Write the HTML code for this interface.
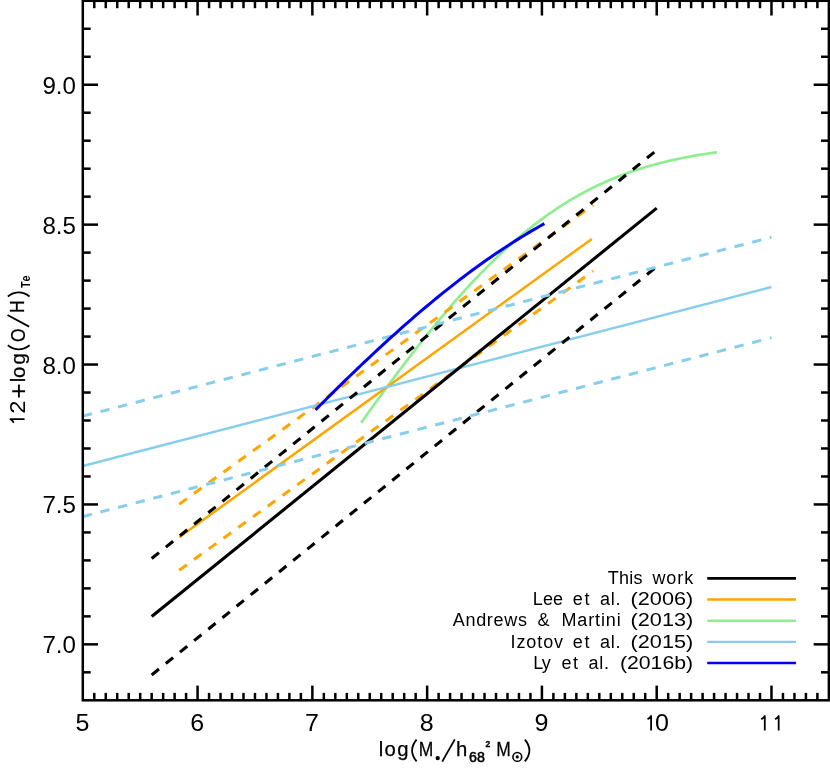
<!DOCTYPE html>
<html><head><meta charset="utf-8"><title>MZ relation</title>
<style>
html,body{margin:0;padding:0;background:#fff;}
body{width:830px;height:774px;overflow:hidden;font-family:"Liberation Sans",sans-serif;}
svg{display:block;will-change:transform;}
text{font-family:"Liberation Sans",sans-serif;fill:#000;}
.tk{font-size:23px;}
.lg{font-size:18px;}
</style></head><body>
<svg width="830" height="774" viewBox="0 0 830 774">
<rect x="0" y="0" width="830" height="774" fill="#ffffff"/>

<path d="M361.16 422.67 L365.61 416.44 L370.06 410.24 L374.51 404.07 L378.96 397.95 L383.40 391.88 L387.85 385.84 L392.30 379.85 L396.75 373.91 L401.19 368.02 L405.64 362.18 L410.09 356.40 L414.54 350.67 L418.98 345.00 L423.43 339.39 L427.88 333.84 L432.33 328.35 L436.78 322.94 L441.22 317.59 L445.67 312.31 L450.12 307.11 L454.57 301.98 L459.01 296.93 L463.46 291.95 L467.91 287.06 L472.36 282.26 L476.81 277.54 L481.25 272.90 L485.70 268.36 L490.15 263.90 L494.60 259.54 L499.04 255.27 L503.49 251.09 L507.94 247.01 L512.39 243.03 L516.83 239.14 L521.28 235.35 L525.73 231.66 L530.18 228.07 L534.63 224.57 L539.07 221.18 L543.52 217.88 L547.97 214.69 L552.42 211.59 L556.86 208.59 L561.31 205.69 L565.76 202.88 L570.21 200.17 L574.66 197.55 L579.10 195.02 L583.55 192.58 L588.00 190.24 L592.45 187.98 L596.89 185.81 L601.34 183.72 L605.79 181.71 L610.24 179.79 L614.68 177.94 L619.13 176.17 L623.58 174.48 L628.03 172.85 L632.48 171.30 L636.92 169.81 L641.37 168.39 L645.82 167.03 L650.27 165.74 L654.71 164.50 L659.16 163.32 L663.61 162.20 L668.06 161.12 L672.51 160.10 L676.95 159.13 L681.40 158.20 L685.85 157.32 L690.30 156.49 L694.74 155.69 L699.19 154.93 L703.64 154.21 L708.09 153.53 L712.53 152.88 L716.98 152.26" fill="none" stroke="#90ee90" stroke-width="2.7" stroke-linecap="butt" stroke-linejoin="round"/>
<line x1="179.22" y1="537.18" x2="591.85" y2="238.91" stroke="#ffa500" stroke-width="2.5" stroke-linecap="butt"/>
<line x1="179.22" y1="504.16" x2="593.23" y2="204.90" stroke="#ffa500" stroke-width="3" stroke-linecap="butt" stroke-dasharray="9.4 8.8"/>
<line x1="179.22" y1="570.19" x2="593.23" y2="270.93" stroke="#ffa500" stroke-width="3" stroke-linecap="butt" stroke-dasharray="9.4 8.8"/>
<line x1="82.80" y1="465.97" x2="771.48" y2="287.04" stroke="#87ceeb" stroke-width="2.6" stroke-linecap="butt"/>
<line x1="151.67" y1="616.50" x2="656.70" y2="208.13" stroke="#000" stroke-width="3.1" stroke-linecap="butt"/>
<line x1="151.67" y1="558.58" x2="656.70" y2="150.21" stroke="#000" stroke-width="3.1" stroke-linecap="butt" stroke-dasharray="9.4 8.8"/>
<line x1="151.67" y1="674.98" x2="656.70" y2="266.61" stroke="#000" stroke-width="3.1" stroke-linecap="butt" stroke-dasharray="9.4 8.8"/>
<line x1="82.80" y1="416.16" x2="771.48" y2="237.23" stroke="#87ceeb" stroke-width="3" stroke-linecap="butt" stroke-dasharray="9.4 8.8"/>
<line x1="82.80" y1="516.61" x2="771.48" y2="337.68" stroke="#87ceeb" stroke-width="3" stroke-linecap="butt" stroke-dasharray="9.4 8.8"/>
<path d="M315.50 409.89 L319.32 406.06 L323.13 402.24 L326.95 398.44 L330.76 394.65 L334.58 390.88 L338.39 387.13 L342.21 383.40 L346.02 379.68 L349.84 375.99 L353.65 372.31 L357.47 368.65 L361.28 365.02 L365.10 361.40 L368.91 357.80 L372.73 354.23 L376.54 350.68 L380.36 347.15 L384.17 343.64 L387.99 340.16 L391.80 336.70 L395.62 333.27 L399.43 329.86 L403.25 326.47 L407.06 323.12 L410.88 319.79 L414.69 316.48 L418.51 313.21 L422.32 309.96 L426.14 306.75 L429.95 303.56 L433.77 300.40 L437.58 297.27 L441.40 294.18 L445.21 291.11 L449.03 288.08 L452.84 285.07 L456.66 282.11 L460.47 279.17 L464.29 276.27 L468.10 273.40 L471.92 270.57 L475.73 267.77 L479.55 265.00 L483.36 262.27 L487.18 259.58 L490.99 256.93 L494.81 254.31 L498.62 251.72 L502.44 249.18 L506.25 246.67 L510.07 244.20 L513.88 241.76 L517.69 239.37 L521.51 237.01 L525.32 234.69 L529.14 232.41 L532.95 230.16 L536.77 227.96 L540.58 225.79 L544.40 223.66" fill="none" stroke="#0000f6" stroke-width="3" stroke-linecap="butt" stroke-linejoin="round"/>
<rect x="82.80" y="0.80" width="746.07" height="699.50" fill="none" stroke="#000" stroke-width="2.5"/>
<line x1="94.28" y1="700.30" x2="94.28" y2="692.90" stroke="#000" stroke-width="2.5" stroke-linecap="butt"/>
<line x1="94.28" y1="0.80" x2="94.28" y2="8.20" stroke="#000" stroke-width="2.5" stroke-linecap="butt"/>
<line x1="105.76" y1="700.30" x2="105.76" y2="692.90" stroke="#000" stroke-width="2.5" stroke-linecap="butt"/>
<line x1="105.76" y1="0.80" x2="105.76" y2="8.20" stroke="#000" stroke-width="2.5" stroke-linecap="butt"/>
<line x1="117.23" y1="700.30" x2="117.23" y2="692.90" stroke="#000" stroke-width="2.5" stroke-linecap="butt"/>
<line x1="117.23" y1="0.80" x2="117.23" y2="8.20" stroke="#000" stroke-width="2.5" stroke-linecap="butt"/>
<line x1="128.71" y1="700.30" x2="128.71" y2="692.90" stroke="#000" stroke-width="2.5" stroke-linecap="butt"/>
<line x1="128.71" y1="0.80" x2="128.71" y2="8.20" stroke="#000" stroke-width="2.5" stroke-linecap="butt"/>
<line x1="140.19" y1="700.30" x2="140.19" y2="692.90" stroke="#000" stroke-width="2.5" stroke-linecap="butt"/>
<line x1="140.19" y1="0.80" x2="140.19" y2="8.20" stroke="#000" stroke-width="2.5" stroke-linecap="butt"/>
<line x1="151.67" y1="700.30" x2="151.67" y2="692.90" stroke="#000" stroke-width="2.5" stroke-linecap="butt"/>
<line x1="151.67" y1="0.80" x2="151.67" y2="8.20" stroke="#000" stroke-width="2.5" stroke-linecap="butt"/>
<line x1="163.15" y1="700.30" x2="163.15" y2="692.90" stroke="#000" stroke-width="2.5" stroke-linecap="butt"/>
<line x1="163.15" y1="0.80" x2="163.15" y2="8.20" stroke="#000" stroke-width="2.5" stroke-linecap="butt"/>
<line x1="174.62" y1="700.30" x2="174.62" y2="692.90" stroke="#000" stroke-width="2.5" stroke-linecap="butt"/>
<line x1="174.62" y1="0.80" x2="174.62" y2="8.20" stroke="#000" stroke-width="2.5" stroke-linecap="butt"/>
<line x1="186.10" y1="700.30" x2="186.10" y2="692.90" stroke="#000" stroke-width="2.5" stroke-linecap="butt"/>
<line x1="186.10" y1="0.80" x2="186.10" y2="8.20" stroke="#000" stroke-width="2.5" stroke-linecap="butt"/>
<line x1="197.58" y1="700.30" x2="197.58" y2="685.60" stroke="#000" stroke-width="2.5" stroke-linecap="butt"/>
<line x1="197.58" y1="0.80" x2="197.58" y2="15.50" stroke="#000" stroke-width="2.5" stroke-linecap="butt"/>
<line x1="209.06" y1="700.30" x2="209.06" y2="692.90" stroke="#000" stroke-width="2.5" stroke-linecap="butt"/>
<line x1="209.06" y1="0.80" x2="209.06" y2="8.20" stroke="#000" stroke-width="2.5" stroke-linecap="butt"/>
<line x1="220.54" y1="700.30" x2="220.54" y2="692.90" stroke="#000" stroke-width="2.5" stroke-linecap="butt"/>
<line x1="220.54" y1="0.80" x2="220.54" y2="8.20" stroke="#000" stroke-width="2.5" stroke-linecap="butt"/>
<line x1="232.01" y1="700.30" x2="232.01" y2="692.90" stroke="#000" stroke-width="2.5" stroke-linecap="butt"/>
<line x1="232.01" y1="0.80" x2="232.01" y2="8.20" stroke="#000" stroke-width="2.5" stroke-linecap="butt"/>
<line x1="243.49" y1="700.30" x2="243.49" y2="692.90" stroke="#000" stroke-width="2.5" stroke-linecap="butt"/>
<line x1="243.49" y1="0.80" x2="243.49" y2="8.20" stroke="#000" stroke-width="2.5" stroke-linecap="butt"/>
<line x1="254.97" y1="700.30" x2="254.97" y2="692.90" stroke="#000" stroke-width="2.5" stroke-linecap="butt"/>
<line x1="254.97" y1="0.80" x2="254.97" y2="8.20" stroke="#000" stroke-width="2.5" stroke-linecap="butt"/>
<line x1="266.45" y1="700.30" x2="266.45" y2="692.90" stroke="#000" stroke-width="2.5" stroke-linecap="butt"/>
<line x1="266.45" y1="0.80" x2="266.45" y2="8.20" stroke="#000" stroke-width="2.5" stroke-linecap="butt"/>
<line x1="277.93" y1="700.30" x2="277.93" y2="692.90" stroke="#000" stroke-width="2.5" stroke-linecap="butt"/>
<line x1="277.93" y1="0.80" x2="277.93" y2="8.20" stroke="#000" stroke-width="2.5" stroke-linecap="butt"/>
<line x1="289.40" y1="700.30" x2="289.40" y2="692.90" stroke="#000" stroke-width="2.5" stroke-linecap="butt"/>
<line x1="289.40" y1="0.80" x2="289.40" y2="8.20" stroke="#000" stroke-width="2.5" stroke-linecap="butt"/>
<line x1="300.88" y1="700.30" x2="300.88" y2="692.90" stroke="#000" stroke-width="2.5" stroke-linecap="butt"/>
<line x1="300.88" y1="0.80" x2="300.88" y2="8.20" stroke="#000" stroke-width="2.5" stroke-linecap="butt"/>
<line x1="312.36" y1="700.30" x2="312.36" y2="685.60" stroke="#000" stroke-width="2.5" stroke-linecap="butt"/>
<line x1="312.36" y1="0.80" x2="312.36" y2="15.50" stroke="#000" stroke-width="2.5" stroke-linecap="butt"/>
<line x1="323.84" y1="700.30" x2="323.84" y2="692.90" stroke="#000" stroke-width="2.5" stroke-linecap="butt"/>
<line x1="323.84" y1="0.80" x2="323.84" y2="8.20" stroke="#000" stroke-width="2.5" stroke-linecap="butt"/>
<line x1="335.32" y1="700.30" x2="335.32" y2="692.90" stroke="#000" stroke-width="2.5" stroke-linecap="butt"/>
<line x1="335.32" y1="0.80" x2="335.32" y2="8.20" stroke="#000" stroke-width="2.5" stroke-linecap="butt"/>
<line x1="346.79" y1="700.30" x2="346.79" y2="692.90" stroke="#000" stroke-width="2.5" stroke-linecap="butt"/>
<line x1="346.79" y1="0.80" x2="346.79" y2="8.20" stroke="#000" stroke-width="2.5" stroke-linecap="butt"/>
<line x1="358.27" y1="700.30" x2="358.27" y2="692.90" stroke="#000" stroke-width="2.5" stroke-linecap="butt"/>
<line x1="358.27" y1="0.80" x2="358.27" y2="8.20" stroke="#000" stroke-width="2.5" stroke-linecap="butt"/>
<line x1="369.75" y1="700.30" x2="369.75" y2="692.90" stroke="#000" stroke-width="2.5" stroke-linecap="butt"/>
<line x1="369.75" y1="0.80" x2="369.75" y2="8.20" stroke="#000" stroke-width="2.5" stroke-linecap="butt"/>
<line x1="381.23" y1="700.30" x2="381.23" y2="692.90" stroke="#000" stroke-width="2.5" stroke-linecap="butt"/>
<line x1="381.23" y1="0.80" x2="381.23" y2="8.20" stroke="#000" stroke-width="2.5" stroke-linecap="butt"/>
<line x1="392.71" y1="700.30" x2="392.71" y2="692.90" stroke="#000" stroke-width="2.5" stroke-linecap="butt"/>
<line x1="392.71" y1="0.80" x2="392.71" y2="8.20" stroke="#000" stroke-width="2.5" stroke-linecap="butt"/>
<line x1="404.18" y1="700.30" x2="404.18" y2="692.90" stroke="#000" stroke-width="2.5" stroke-linecap="butt"/>
<line x1="404.18" y1="0.80" x2="404.18" y2="8.20" stroke="#000" stroke-width="2.5" stroke-linecap="butt"/>
<line x1="415.66" y1="700.30" x2="415.66" y2="692.90" stroke="#000" stroke-width="2.5" stroke-linecap="butt"/>
<line x1="415.66" y1="0.80" x2="415.66" y2="8.20" stroke="#000" stroke-width="2.5" stroke-linecap="butt"/>
<line x1="427.14" y1="700.30" x2="427.14" y2="685.60" stroke="#000" stroke-width="2.5" stroke-linecap="butt"/>
<line x1="427.14" y1="0.80" x2="427.14" y2="15.50" stroke="#000" stroke-width="2.5" stroke-linecap="butt"/>
<line x1="438.62" y1="700.30" x2="438.62" y2="692.90" stroke="#000" stroke-width="2.5" stroke-linecap="butt"/>
<line x1="438.62" y1="0.80" x2="438.62" y2="8.20" stroke="#000" stroke-width="2.5" stroke-linecap="butt"/>
<line x1="450.10" y1="700.30" x2="450.10" y2="692.90" stroke="#000" stroke-width="2.5" stroke-linecap="butt"/>
<line x1="450.10" y1="0.80" x2="450.10" y2="8.20" stroke="#000" stroke-width="2.5" stroke-linecap="butt"/>
<line x1="461.57" y1="700.30" x2="461.57" y2="692.90" stroke="#000" stroke-width="2.5" stroke-linecap="butt"/>
<line x1="461.57" y1="0.80" x2="461.57" y2="8.20" stroke="#000" stroke-width="2.5" stroke-linecap="butt"/>
<line x1="473.05" y1="700.30" x2="473.05" y2="692.90" stroke="#000" stroke-width="2.5" stroke-linecap="butt"/>
<line x1="473.05" y1="0.80" x2="473.05" y2="8.20" stroke="#000" stroke-width="2.5" stroke-linecap="butt"/>
<line x1="484.53" y1="700.30" x2="484.53" y2="692.90" stroke="#000" stroke-width="2.5" stroke-linecap="butt"/>
<line x1="484.53" y1="0.80" x2="484.53" y2="8.20" stroke="#000" stroke-width="2.5" stroke-linecap="butt"/>
<line x1="496.01" y1="700.30" x2="496.01" y2="692.90" stroke="#000" stroke-width="2.5" stroke-linecap="butt"/>
<line x1="496.01" y1="0.80" x2="496.01" y2="8.20" stroke="#000" stroke-width="2.5" stroke-linecap="butt"/>
<line x1="507.49" y1="700.30" x2="507.49" y2="692.90" stroke="#000" stroke-width="2.5" stroke-linecap="butt"/>
<line x1="507.49" y1="0.80" x2="507.49" y2="8.20" stroke="#000" stroke-width="2.5" stroke-linecap="butt"/>
<line x1="518.96" y1="700.30" x2="518.96" y2="692.90" stroke="#000" stroke-width="2.5" stroke-linecap="butt"/>
<line x1="518.96" y1="0.80" x2="518.96" y2="8.20" stroke="#000" stroke-width="2.5" stroke-linecap="butt"/>
<line x1="530.44" y1="700.30" x2="530.44" y2="692.90" stroke="#000" stroke-width="2.5" stroke-linecap="butt"/>
<line x1="530.44" y1="0.80" x2="530.44" y2="8.20" stroke="#000" stroke-width="2.5" stroke-linecap="butt"/>
<line x1="541.92" y1="700.30" x2="541.92" y2="685.60" stroke="#000" stroke-width="2.5" stroke-linecap="butt"/>
<line x1="541.92" y1="0.80" x2="541.92" y2="15.50" stroke="#000" stroke-width="2.5" stroke-linecap="butt"/>
<line x1="553.40" y1="700.30" x2="553.40" y2="692.90" stroke="#000" stroke-width="2.5" stroke-linecap="butt"/>
<line x1="553.40" y1="0.80" x2="553.40" y2="8.20" stroke="#000" stroke-width="2.5" stroke-linecap="butt"/>
<line x1="564.88" y1="700.30" x2="564.88" y2="692.90" stroke="#000" stroke-width="2.5" stroke-linecap="butt"/>
<line x1="564.88" y1="0.80" x2="564.88" y2="8.20" stroke="#000" stroke-width="2.5" stroke-linecap="butt"/>
<line x1="576.35" y1="700.30" x2="576.35" y2="692.90" stroke="#000" stroke-width="2.5" stroke-linecap="butt"/>
<line x1="576.35" y1="0.80" x2="576.35" y2="8.20" stroke="#000" stroke-width="2.5" stroke-linecap="butt"/>
<line x1="587.83" y1="700.30" x2="587.83" y2="692.90" stroke="#000" stroke-width="2.5" stroke-linecap="butt"/>
<line x1="587.83" y1="0.80" x2="587.83" y2="8.20" stroke="#000" stroke-width="2.5" stroke-linecap="butt"/>
<line x1="599.31" y1="700.30" x2="599.31" y2="692.90" stroke="#000" stroke-width="2.5" stroke-linecap="butt"/>
<line x1="599.31" y1="0.80" x2="599.31" y2="8.20" stroke="#000" stroke-width="2.5" stroke-linecap="butt"/>
<line x1="610.79" y1="700.30" x2="610.79" y2="692.90" stroke="#000" stroke-width="2.5" stroke-linecap="butt"/>
<line x1="610.79" y1="0.80" x2="610.79" y2="8.20" stroke="#000" stroke-width="2.5" stroke-linecap="butt"/>
<line x1="622.27" y1="700.30" x2="622.27" y2="692.90" stroke="#000" stroke-width="2.5" stroke-linecap="butt"/>
<line x1="622.27" y1="0.80" x2="622.27" y2="8.20" stroke="#000" stroke-width="2.5" stroke-linecap="butt"/>
<line x1="633.74" y1="700.30" x2="633.74" y2="692.90" stroke="#000" stroke-width="2.5" stroke-linecap="butt"/>
<line x1="633.74" y1="0.80" x2="633.74" y2="8.20" stroke="#000" stroke-width="2.5" stroke-linecap="butt"/>
<line x1="645.22" y1="700.30" x2="645.22" y2="692.90" stroke="#000" stroke-width="2.5" stroke-linecap="butt"/>
<line x1="645.22" y1="0.80" x2="645.22" y2="8.20" stroke="#000" stroke-width="2.5" stroke-linecap="butt"/>
<line x1="656.70" y1="700.30" x2="656.70" y2="685.60" stroke="#000" stroke-width="2.5" stroke-linecap="butt"/>
<line x1="656.70" y1="0.80" x2="656.70" y2="15.50" stroke="#000" stroke-width="2.5" stroke-linecap="butt"/>
<line x1="668.18" y1="700.30" x2="668.18" y2="692.90" stroke="#000" stroke-width="2.5" stroke-linecap="butt"/>
<line x1="668.18" y1="0.80" x2="668.18" y2="8.20" stroke="#000" stroke-width="2.5" stroke-linecap="butt"/>
<line x1="679.66" y1="700.30" x2="679.66" y2="692.90" stroke="#000" stroke-width="2.5" stroke-linecap="butt"/>
<line x1="679.66" y1="0.80" x2="679.66" y2="8.20" stroke="#000" stroke-width="2.5" stroke-linecap="butt"/>
<line x1="691.13" y1="700.30" x2="691.13" y2="692.90" stroke="#000" stroke-width="2.5" stroke-linecap="butt"/>
<line x1="691.13" y1="0.80" x2="691.13" y2="8.20" stroke="#000" stroke-width="2.5" stroke-linecap="butt"/>
<line x1="702.61" y1="700.30" x2="702.61" y2="692.90" stroke="#000" stroke-width="2.5" stroke-linecap="butt"/>
<line x1="702.61" y1="0.80" x2="702.61" y2="8.20" stroke="#000" stroke-width="2.5" stroke-linecap="butt"/>
<line x1="714.09" y1="700.30" x2="714.09" y2="692.90" stroke="#000" stroke-width="2.5" stroke-linecap="butt"/>
<line x1="714.09" y1="0.80" x2="714.09" y2="8.20" stroke="#000" stroke-width="2.5" stroke-linecap="butt"/>
<line x1="725.57" y1="700.30" x2="725.57" y2="692.90" stroke="#000" stroke-width="2.5" stroke-linecap="butt"/>
<line x1="725.57" y1="0.80" x2="725.57" y2="8.20" stroke="#000" stroke-width="2.5" stroke-linecap="butt"/>
<line x1="737.05" y1="700.30" x2="737.05" y2="692.90" stroke="#000" stroke-width="2.5" stroke-linecap="butt"/>
<line x1="737.05" y1="0.80" x2="737.05" y2="8.20" stroke="#000" stroke-width="2.5" stroke-linecap="butt"/>
<line x1="748.52" y1="700.30" x2="748.52" y2="692.90" stroke="#000" stroke-width="2.5" stroke-linecap="butt"/>
<line x1="748.52" y1="0.80" x2="748.52" y2="8.20" stroke="#000" stroke-width="2.5" stroke-linecap="butt"/>
<line x1="760.00" y1="700.30" x2="760.00" y2="692.90" stroke="#000" stroke-width="2.5" stroke-linecap="butt"/>
<line x1="760.00" y1="0.80" x2="760.00" y2="8.20" stroke="#000" stroke-width="2.5" stroke-linecap="butt"/>
<line x1="771.48" y1="700.30" x2="771.48" y2="685.60" stroke="#000" stroke-width="2.5" stroke-linecap="butt"/>
<line x1="771.48" y1="0.80" x2="771.48" y2="15.50" stroke="#000" stroke-width="2.5" stroke-linecap="butt"/>
<line x1="782.96" y1="700.30" x2="782.96" y2="692.90" stroke="#000" stroke-width="2.5" stroke-linecap="butt"/>
<line x1="782.96" y1="0.80" x2="782.96" y2="8.20" stroke="#000" stroke-width="2.5" stroke-linecap="butt"/>
<line x1="794.44" y1="700.30" x2="794.44" y2="692.90" stroke="#000" stroke-width="2.5" stroke-linecap="butt"/>
<line x1="794.44" y1="0.80" x2="794.44" y2="8.20" stroke="#000" stroke-width="2.5" stroke-linecap="butt"/>
<line x1="805.91" y1="700.30" x2="805.91" y2="692.90" stroke="#000" stroke-width="2.5" stroke-linecap="butt"/>
<line x1="805.91" y1="0.80" x2="805.91" y2="8.20" stroke="#000" stroke-width="2.5" stroke-linecap="butt"/>
<line x1="817.39" y1="700.30" x2="817.39" y2="692.90" stroke="#000" stroke-width="2.5" stroke-linecap="butt"/>
<line x1="817.39" y1="0.80" x2="817.39" y2="8.20" stroke="#000" stroke-width="2.5" stroke-linecap="butt"/>
<line x1="82.80" y1="672.32" x2="90.70" y2="672.32" stroke="#000" stroke-width="2.5" stroke-linecap="butt"/>
<line x1="828.87" y1="672.32" x2="820.97" y2="672.32" stroke="#000" stroke-width="2.5" stroke-linecap="butt"/>
<line x1="82.80" y1="644.34" x2="98.00" y2="644.34" stroke="#000" stroke-width="2.5" stroke-linecap="butt"/>
<line x1="828.87" y1="644.34" x2="813.67" y2="644.34" stroke="#000" stroke-width="2.5" stroke-linecap="butt"/>
<line x1="82.80" y1="616.36" x2="90.70" y2="616.36" stroke="#000" stroke-width="2.5" stroke-linecap="butt"/>
<line x1="828.87" y1="616.36" x2="820.97" y2="616.36" stroke="#000" stroke-width="2.5" stroke-linecap="butt"/>
<line x1="82.80" y1="588.38" x2="90.70" y2="588.38" stroke="#000" stroke-width="2.5" stroke-linecap="butt"/>
<line x1="828.87" y1="588.38" x2="820.97" y2="588.38" stroke="#000" stroke-width="2.5" stroke-linecap="butt"/>
<line x1="82.80" y1="560.40" x2="90.70" y2="560.40" stroke="#000" stroke-width="2.5" stroke-linecap="butt"/>
<line x1="828.87" y1="560.40" x2="820.97" y2="560.40" stroke="#000" stroke-width="2.5" stroke-linecap="butt"/>
<line x1="82.80" y1="532.42" x2="90.70" y2="532.42" stroke="#000" stroke-width="2.5" stroke-linecap="butt"/>
<line x1="828.87" y1="532.42" x2="820.97" y2="532.42" stroke="#000" stroke-width="2.5" stroke-linecap="butt"/>
<line x1="82.80" y1="504.44" x2="98.00" y2="504.44" stroke="#000" stroke-width="2.5" stroke-linecap="butt"/>
<line x1="828.87" y1="504.44" x2="813.67" y2="504.44" stroke="#000" stroke-width="2.5" stroke-linecap="butt"/>
<line x1="82.80" y1="476.46" x2="90.70" y2="476.46" stroke="#000" stroke-width="2.5" stroke-linecap="butt"/>
<line x1="828.87" y1="476.46" x2="820.97" y2="476.46" stroke="#000" stroke-width="2.5" stroke-linecap="butt"/>
<line x1="82.80" y1="448.48" x2="90.70" y2="448.48" stroke="#000" stroke-width="2.5" stroke-linecap="butt"/>
<line x1="828.87" y1="448.48" x2="820.97" y2="448.48" stroke="#000" stroke-width="2.5" stroke-linecap="butt"/>
<line x1="82.80" y1="420.50" x2="90.70" y2="420.50" stroke="#000" stroke-width="2.5" stroke-linecap="butt"/>
<line x1="828.87" y1="420.50" x2="820.97" y2="420.50" stroke="#000" stroke-width="2.5" stroke-linecap="butt"/>
<line x1="82.80" y1="392.52" x2="90.70" y2="392.52" stroke="#000" stroke-width="2.5" stroke-linecap="butt"/>
<line x1="828.87" y1="392.52" x2="820.97" y2="392.52" stroke="#000" stroke-width="2.5" stroke-linecap="butt"/>
<line x1="82.80" y1="364.54" x2="98.00" y2="364.54" stroke="#000" stroke-width="2.5" stroke-linecap="butt"/>
<line x1="828.87" y1="364.54" x2="813.67" y2="364.54" stroke="#000" stroke-width="2.5" stroke-linecap="butt"/>
<line x1="82.80" y1="336.56" x2="90.70" y2="336.56" stroke="#000" stroke-width="2.5" stroke-linecap="butt"/>
<line x1="828.87" y1="336.56" x2="820.97" y2="336.56" stroke="#000" stroke-width="2.5" stroke-linecap="butt"/>
<line x1="82.80" y1="308.58" x2="90.70" y2="308.58" stroke="#000" stroke-width="2.5" stroke-linecap="butt"/>
<line x1="828.87" y1="308.58" x2="820.97" y2="308.58" stroke="#000" stroke-width="2.5" stroke-linecap="butt"/>
<line x1="82.80" y1="280.60" x2="90.70" y2="280.60" stroke="#000" stroke-width="2.5" stroke-linecap="butt"/>
<line x1="828.87" y1="280.60" x2="820.97" y2="280.60" stroke="#000" stroke-width="2.5" stroke-linecap="butt"/>
<line x1="82.80" y1="252.62" x2="90.70" y2="252.62" stroke="#000" stroke-width="2.5" stroke-linecap="butt"/>
<line x1="828.87" y1="252.62" x2="820.97" y2="252.62" stroke="#000" stroke-width="2.5" stroke-linecap="butt"/>
<line x1="82.80" y1="224.64" x2="98.00" y2="224.64" stroke="#000" stroke-width="2.5" stroke-linecap="butt"/>
<line x1="828.87" y1="224.64" x2="813.67" y2="224.64" stroke="#000" stroke-width="2.5" stroke-linecap="butt"/>
<line x1="82.80" y1="196.66" x2="90.70" y2="196.66" stroke="#000" stroke-width="2.5" stroke-linecap="butt"/>
<line x1="828.87" y1="196.66" x2="820.97" y2="196.66" stroke="#000" stroke-width="2.5" stroke-linecap="butt"/>
<line x1="82.80" y1="168.68" x2="90.70" y2="168.68" stroke="#000" stroke-width="2.5" stroke-linecap="butt"/>
<line x1="828.87" y1="168.68" x2="820.97" y2="168.68" stroke="#000" stroke-width="2.5" stroke-linecap="butt"/>
<line x1="82.80" y1="140.70" x2="90.70" y2="140.70" stroke="#000" stroke-width="2.5" stroke-linecap="butt"/>
<line x1="828.87" y1="140.70" x2="820.97" y2="140.70" stroke="#000" stroke-width="2.5" stroke-linecap="butt"/>
<line x1="82.80" y1="112.72" x2="90.70" y2="112.72" stroke="#000" stroke-width="2.5" stroke-linecap="butt"/>
<line x1="828.87" y1="112.72" x2="820.97" y2="112.72" stroke="#000" stroke-width="2.5" stroke-linecap="butt"/>
<line x1="82.80" y1="84.74" x2="98.00" y2="84.74" stroke="#000" stroke-width="2.5" stroke-linecap="butt"/>
<line x1="828.87" y1="84.74" x2="813.67" y2="84.74" stroke="#000" stroke-width="2.5" stroke-linecap="butt"/>
<line x1="82.80" y1="56.76" x2="90.70" y2="56.76" stroke="#000" stroke-width="2.5" stroke-linecap="butt"/>
<line x1="828.87" y1="56.76" x2="820.97" y2="56.76" stroke="#000" stroke-width="2.5" stroke-linecap="butt"/>
<line x1="82.80" y1="28.78" x2="90.70" y2="28.78" stroke="#000" stroke-width="2.5" stroke-linecap="butt"/>
<line x1="828.87" y1="28.78" x2="820.97" y2="28.78" stroke="#000" stroke-width="2.5" stroke-linecap="butt"/>
<text class="tk" x="0" y="0" text-anchor="middle" transform="translate(82.40,731.0) scale(1.09,1)">5</text>
<text class="tk" x="0" y="0" text-anchor="middle" transform="translate(197.18,731.0) scale(1.09,1)">6</text>
<text class="tk" x="0" y="0" text-anchor="middle" transform="translate(311.96,731.0) scale(1.09,1)">7</text>
<text class="tk" x="0" y="0" text-anchor="middle" transform="translate(426.74,731.0) scale(1.09,1)">8</text>
<text class="tk" x="0" y="0" text-anchor="middle" transform="translate(541.52,731.0) scale(1.09,1)">9</text>
<path d="M647.50 719.30 L649.10 718.30 L651.10 716.00 L651.10 730.60" fill="none" stroke="#000" stroke-width="1.8" stroke-linejoin="round"/>
<text class="tk" x="0" y="0" text-anchor="middle" transform="translate(662.00,731.0) scale(1.09,1)">0</text>
<path d="M761.18 719.30 L762.78 718.30 L764.78 716.00 L764.78 730.60" fill="none" stroke="#000" stroke-width="1.8" stroke-linejoin="round"/>
<path d="M775.08 719.30 L776.68 718.30 L778.68 716.00 L778.68 730.60" fill="none" stroke="#000" stroke-width="1.8" stroke-linejoin="round"/>
<text class="tk" x="0" y="0" text-anchor="end" transform="translate(76.0,653.34) scale(1.05,1)">7.0</text>
<text class="tk" x="0" y="0" text-anchor="end" transform="translate(76.0,513.44) scale(1.05,1)">7.5</text>
<text class="tk" x="0" y="0" text-anchor="end" transform="translate(76.0,373.54) scale(1.05,1)">8.0</text>
<text class="tk" x="0" y="0" text-anchor="end" transform="translate(76.0,233.64) scale(1.05,1)">8.5</text>
<text class="tk" x="0" y="0" text-anchor="end" transform="translate(76.0,93.74) scale(1.05,1)">9.0</text>
<line x1="707.20" y1="578.40" x2="796.00" y2="578.40" stroke="#000" stroke-width="2.9" stroke-linecap="butt"/>
<text class="lg" x="607.80" y="584.15" textLength="34.80" lengthAdjust="spacing">This</text>
<text class="lg" x="652.40" y="584.15" textLength="40.80" lengthAdjust="spacing">work</text>
<line x1="707.20" y1="599.55" x2="796.00" y2="599.55" stroke="#ffa500" stroke-width="2.5" stroke-linecap="butt"/>
<text class="lg" x="532.70" y="605.30" textLength="30.40" lengthAdjust="spacing">Lee</text>
<text class="lg" x="572.80" y="605.30" textLength="16.60" lengthAdjust="spacing">et</text>
<text class="lg" x="599.90" y="605.30" textLength="20.50" lengthAdjust="spacing">al.</text>
<text class="lg" x="630.60" y="605.30" textLength="62.60" lengthAdjust="spacingAndGlyphs">(2006)</text>
<line x1="707.20" y1="620.70" x2="796.00" y2="620.70" stroke="#90ee90" stroke-width="2.5" stroke-linecap="butt"/>
<text class="lg" x="452.80" y="626.45" textLength="74.10" lengthAdjust="spacing">Andrews</text>
<text class="lg" x="543.55" y="626.45" text-anchor="middle">&amp;</text>
<text class="lg" x="561.40" y="626.45" textLength="59.30" lengthAdjust="spacing">Martini</text>
<text class="lg" x="630.60" y="626.45" textLength="62.60" lengthAdjust="spacingAndGlyphs">(2013)</text>
<line x1="707.20" y1="641.85" x2="796.00" y2="641.85" stroke="#87ceeb" stroke-width="2.4" stroke-linecap="butt"/>
<text class="lg" x="510.50" y="647.60" textLength="52.60" lengthAdjust="spacing">Izotov</text>
<text class="lg" x="572.80" y="647.60" textLength="16.60" lengthAdjust="spacing">et</text>
<text class="lg" x="599.90" y="647.60" textLength="20.50" lengthAdjust="spacing">al.</text>
<text class="lg" x="630.60" y="647.60" textLength="62.60" lengthAdjust="spacingAndGlyphs">(2015)</text>
<line x1="707.20" y1="663.00" x2="796.00" y2="663.00" stroke="#0000f6" stroke-width="2.6" stroke-linecap="butt"/>
<text class="lg" x="533.20" y="668.75" textLength="17.60" lengthAdjust="spacing">Ly</text>
<text class="lg" x="561.40" y="668.75" textLength="16.70" lengthAdjust="spacing">et</text>
<text class="lg" x="588.50" y="668.75" textLength="20.50" lengthAdjust="spacing">al.</text>
<text class="lg" x="619.90" y="668.75" textLength="73.30" lengthAdjust="spacingAndGlyphs">(2016b)</text>
<text x="381.1" y="756.0" font-size="20.3" text-anchor="middle" stroke="#000" stroke-width="0.25">l</text>
<text x="390.2" y="756.0" font-size="20.3" text-anchor="middle" stroke="#000" stroke-width="0.25">o</text>
<text x="403.0" y="756.0" font-size="20.3" text-anchor="middle" stroke="#000" stroke-width="0.25">g</text>
<path d="M416.6 739.6 Q407.6 750.5 416.6 761.4" fill="none" stroke="#000" stroke-width="1.8"/>
<text x="0" y="0" font-size="20.3" text-anchor="middle" transform="translate(426.1,756.0) scale(0.86,1)" stroke="#000" stroke-width="0.25">M</text>
<circle cx="437.7" cy="758.1" r="2.2" fill="#000"/>
<line x1="442.2" y1="761.6" x2="454.8" y2="739.4" stroke="#000" stroke-width="1.8"/>
<text x="461.7" y="756.0" font-size="20.3" text-anchor="middle" stroke="#000" stroke-width="0.25">h</text>
<text x="477" y="762.0" font-size="14.2" text-anchor="middle" stroke="#000" stroke-width="0.55">68</text>
<text x="488" y="746.5" font-size="8.6" text-anchor="middle" font-weight="bold" stroke="#000" stroke-width="0.3">2</text>
<text x="0" y="0" font-size="20.3" text-anchor="middle" transform="translate(503.4,756.0) scale(0.86,1)" stroke="#000" stroke-width="0.25">M</text>
<circle cx="517.3" cy="756.9" r="4.4" fill="none" stroke="#000" stroke-width="1.6"/><circle cx="517.3" cy="756.9" r="1.6" fill="#000"/>
<path d="M524.9 739.6 Q533.9 750.5 524.9 761.4" fill="none" stroke="#000" stroke-width="1.8"/>
<g transform="translate(24.1,0) rotate(-90)">
<path d="M-422.7 -10.4 L-421.1 -11.4 L-419.1 -13.7 L-419.1 0.5" fill="none" stroke="#000" stroke-width="1.8" stroke-linejoin="round"/>
<text x="0" y="0" font-size="22.3" text-anchor="middle" transform="translate(-407.00,0.8) scale(1.07,1)">2</text>
<text x="0" y="0" font-size="26" text-anchor="middle" transform="translate(-391.20,2.6) scale(1.0,1)" stroke="#000" stroke-width="0.1">+</text>
<text x="0" y="0" font-size="20.3" text-anchor="middle" transform="translate(-379.90,0.4) scale(1.0,1)" stroke="#000" stroke-width="0.25">l</text>
<text x="0" y="0" font-size="20.3" text-anchor="middle" transform="translate(-372.30,0.6) scale(1.0,1)" stroke="#000" stroke-width="0.25">o</text>
<text x="0" y="0" font-size="20.3" text-anchor="middle" transform="translate(-358.90,0.6) scale(1.0,1)" stroke="#000" stroke-width="0.25">g</text>
<path d="M-345.3 -16.3 Q-353.5 -5.4 -345.3 5.5" fill="none" stroke="#000" stroke-width="1.8"/>
<text x="0" y="0" font-size="20.3" text-anchor="middle" transform="translate(-335.30,0.5) scale(0.86,1)" stroke="#000" stroke-width="0.25">O</text>
<line x1="-326.6" y1="5.0" x2="-315.0" y2="-16.6" stroke="#000" stroke-width="1.8"/>
<text x="0" y="0" font-size="20.3" text-anchor="middle" transform="translate(-306.70,0.3) scale(0.86,1)" stroke="#000" stroke-width="0.25">H</text>
<path d="M-296.4 -16.3 Q-288.4 -5.4 -296.4 5.5" fill="none" stroke="#000" stroke-width="1.8"/>
<text x="0" y="0" font-size="12" text-anchor="middle" transform="translate(-284.80,5.6) scale(0.9,1)" font-weight="bold">T</text>
<text x="0" y="0" font-size="12" text-anchor="middle" transform="translate(-278.50,5.6) scale(0.9,1)" font-weight="bold">e</text>
</g>
</svg></body></html>
